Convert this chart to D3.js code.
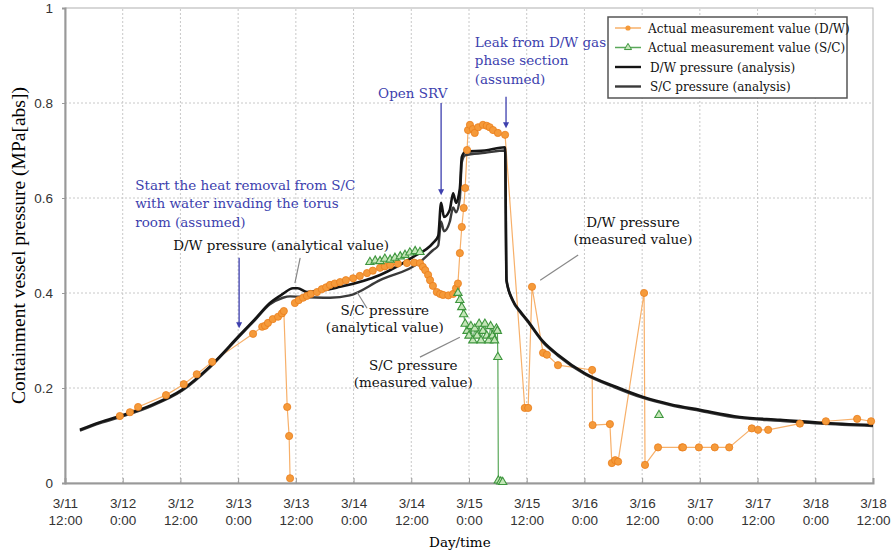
<!DOCTYPE html>
<html>
<head>
<meta charset="utf-8">
<script src="https://cdn.jsdelivr.net/npm/d3@7"></script>
<style>
body { margin: 0; background: #fff; }
text { font-family: "DejaVu Serif", serif; }
.tick text { font-family: "Liberation Sans", Arial, sans-serif; }
</style>
</head>
<body>
<svg></svg>
<script>
// x values are hours after 3/11 12:00, y values are MPa[abs]
var tickHours = [0, 12, 24, 36, 48, 60, 72, 84, 96, 108, 120, 132, 144, 156, 168];
var tickLabels = [
  ["3/11", "12:00"], ["3/12", "0:00"], ["3/12", "12:00"], ["3/13", "0:00"], ["3/13", "12:00"],
  ["3/14", "0:00"], ["3/14", "12:00"], ["3/15", "0:00"], ["3/15", "12:00"], ["3/16", "0:00"],
  ["3/16", "12:00"], ["3/17", "0:00"], ["3/17", "12:00"], ["3/18", "0:00"], ["3/18", "12:00"]
];
var yTicks = [0, 0.2, 0.4, 0.6, 0.8, 1];

var dwAnalysis = [
  [3.1, 0.112], [7.3, 0.128], [12.1, 0.143], [17.7, 0.163], [24.3, 0.196], [30.1, 0.245],
  [36.2, 0.31], [39.5, 0.345], [42.6, 0.379], [45.3, 0.398], [47.4, 0.41], [48.4, 0.41],
  [50.3, 0.402], [57.2, 0.413], [65.5, 0.438], [72.4, 0.476], [76.5, 0.505], [77.6, 0.52],
  [78.2, 0.59], [78.8, 0.56], [80.0, 0.575], [80.7, 0.61], [81.3, 0.59], [82.1, 0.62],
  [82.5, 0.686], [83.2, 0.697], [87.3, 0.70], [91.5, 0.707], [91.8, 0.427], [93.1, 0.385],
  [94.6, 0.362], [96.1, 0.343], [99.4, 0.298], [102.5, 0.27], [108.1, 0.231], [114.4, 0.203],
  [120.2, 0.181], [125.8, 0.166], [132.0, 0.154], [140.3, 0.139], [148.7, 0.133],
  [157.0, 0.127], [168, 0.122]
];

var scAnalysis = [
  [3.1, 0.110], [7.3, 0.126], [12.1, 0.141], [17.7, 0.161], [24.3, 0.194], [30.1, 0.243],
  [36.2, 0.308], [39.5, 0.343], [42.6, 0.376], [45.3, 0.390], [46.8, 0.393], [48.6, 0.392],
  [55.1, 0.39], [59.2, 0.395], [65.5, 0.427], [73.8, 0.465], [76.5, 0.49], [77.6, 0.50],
  [78.2, 0.55], [78.8, 0.53], [80.0, 0.55], [80.7, 0.58], [81.3, 0.57], [82.1, 0.60],
  [82.5, 0.675], [83.2, 0.69], [87.3, 0.695], [91.5, 0.70], [91.8, 0.425], [93.1, 0.383],
  [94.6, 0.360], [96.1, 0.341], [99.4, 0.296], [102.5, 0.268], [108.1, 0.229], [114.4, 0.201],
  [120.2, 0.179], [125.8, 0.164], [132.0, 0.152], [140.3, 0.137], [148.7, 0.131],
  [157.0, 0.125], [168, 0.120]
];

var dwMeasured = [
  [11.4, 0.141], [13.5, 0.149], [15.2, 0.16], [21.0, 0.185], [24.7, 0.208], [27.4, 0.229],
  [30.6, 0.255], [39.1, 0.314], [41.0, 0.329], [41.6, 0.331], [42.2, 0.337], [43.2, 0.345],
  [44.3, 0.35], [45.1, 0.357], [45.5, 0.362], [46.2, 0.16], [46.6, 0.099], [46.8, 0.01],
  null,
  [47.8, 0.379], [48.6, 0.385], [49.5, 0.39], [50.3, 0.394], [51.1, 0.398], [52.4, 0.402],
  [53.4, 0.408], [54.3, 0.412], [55.1, 0.417], [56.1, 0.42], [57.2, 0.423], [58.4, 0.427],
  [59.9, 0.431], [61.3, 0.436], [62.8, 0.442], [64.0, 0.447], [65.5, 0.453], [66.5, 0.456],
  [67.6, 0.459], [69.2, 0.462], [71.1, 0.463], [72.6, 0.464], [73.8, 0.463], [74.4, 0.455],
  [74.9, 0.448], [75.5, 0.438], [75.9, 0.427], [76.5, 0.415], [77.3, 0.402], [78.0, 0.398],
  [78.6, 0.396], [79.7, 0.395], [80.7, 0.398], [81.3, 0.41], [81.7, 0.42], [82.1, 0.484],
  [82.5, 0.539], [82.9, 0.579], [83.2, 0.621], [83.6, 0.701], [83.8, 0.743], [84.2, 0.754],
  [84.8, 0.745], [85.2, 0.737], [85.9, 0.749], [86.9, 0.754], [87.7, 0.752], [88.3, 0.749],
  [89.0, 0.743], [90.0, 0.737], [91.5, 0.733], [95.6, 0.158], [96.3, 0.158], [97.1, 0.413],
  [99.4, 0.274], [100.2, 0.27], [102.5, 0.248], [109.6, 0.238], [109.7, 0.122], [113.3, 0.124],
  [113.7, 0.042], [114.4, 0.048], [115.0, 0.045], [120.4, 0.40], [120.6, 0.038], [123.3, 0.075],
  [128.3, 0.075], [128.5, 0.075], [131.8, 0.075], [135.1, 0.075], [138.1, 0.075], [142.8, 0.115],
  [144.1, 0.112], [146.2, 0.112], [152.8, 0.125], [158.2, 0.13], [164.7, 0.135], [167.6, 0.13]
];

var scMeasured = [
  [63.4, 0.465], [64.5, 0.468], [65.5, 0.467], [66.5, 0.472], [67.6, 0.47], [68.6, 0.474],
  [69.7, 0.477], [70.7, 0.48], [71.7, 0.485], [72.8, 0.488], [73.8, 0.486],
  null,
  [81.7, 0.40], [82.1, 0.385], [82.5, 0.37], [82.9, 0.355], [83.2, 0.335], [83.6, 0.32],
  [84.0, 0.31], [84.4, 0.33], [84.8, 0.30], [85.2, 0.325], [85.7, 0.31], [86.1, 0.335],
  [86.5, 0.30], [86.9, 0.32], [87.3, 0.335], [87.7, 0.31], [88.1, 0.30], [88.5, 0.33],
  [88.9, 0.31], [89.3, 0.30], [89.7, 0.325], [89.9, 0.32], [90.0, 0.265], [90.1, 0.005],
  [90.6, 0.003], [91.0, 0.002],
  null,
  [123.5, 0.143]
];

var blueNotes = [
  {h: 14.6, v: 0.617, lines: ["Start the heat removal from S/C", "with water invading the torus", "room (assumed)"], arrow: [36.2, 0.474, 0.326]},
  {h: 65.1, v: 0.81, lines: ["Open SRV"], arrow: [78.2, 0.80, 0.606]},
  {h: 85.2, v: 0.918, lines: ["Leak from D/W gas", "phase section", "(assumed)"], arrow: [91.7, 0.813, 0.747]}
];

var blackNotes = [
  {h: 22.5, v: 0.491, lines: ["D/W pressure (analytical value)"], anchor: "start", lead: [48.9, 0.474, 47.8, 0.421]},
  {h: 66.5, v: 0.354, lines: ["S/C pressure", "(analytical value)"], anchor: "middle", lead: [62.8, 0.368, 60.7, 0.402]},
  {h: 72.4, v: 0.238, lines: ["S/C pressure", "(measured value)"], anchor: "middle", lead: [73.8, 0.265, 82.1, 0.307]},
  {h: 118.1, v: 0.539, lines: ["D/W pressure", "(measured value)"], anchor: "middle", lead: [106.7, 0.48, 98.8, 0.427]}
];

var legendItems = [
  {label: "Actual measurement value (D/W)", kind: "dw"},
  {label: "Actual measurement value (S/C)", kind: "sc"},
  {label: "D/W pressure (analysis)", kind: "dwa"},
  {label: "S/C pressure (analysis)", kind: "sca"}
];

var width = 896, height = 553;
var margin = {top: 8, right: 23, bottom: 70, left: 65};
var svg = d3.select("svg").attr("width", width).attr("height", height);

var x = d3.scaleLinear().domain([0, 168]).range([margin.left, width - margin.right]);
var y = d3.scaleLinear().domain([0, 1]).range([height - margin.bottom, margin.top]);

var blue = "#3d3fae", orange = "#f59a3a", orangeLine = "#f7b06a", green = "#3e963e";
var noteSize = 13.5;

// grid
svg.append("g").selectAll("line").data(tickHours.slice(1, -1)).enter().append("line")
  .attr("x1", d => x(d)).attr("x2", d => x(d))
  .attr("y1", y(0)).attr("y2", y(1))
  .attr("stroke", "#c8c8c8").attr("stroke-dasharray", "2,2");
svg.append("g").selectAll("line").data(yTicks.slice(1, -1)).enter().append("line")
  .attr("x1", x(0)).attr("x2", x(168))
  .attr("y1", d => y(d)).attr("y2", d => y(d))
  .attr("stroke", "#c8c8c8").attr("stroke-dasharray", "2,2");

// frame
svg.append("rect")
  .attr("x", x(0)).attr("y", y(1))
  .attr("width", x(168) - x(0)).attr("height", y(0) - y(1))
  .attr("fill", "none").attr("stroke", "#b0b0b0");

// axes
var xAxis = svg.append("g").attr("transform", "translate(0," + y(0) + ")")
  .call(d3.axisBottom(x).tickValues(tickHours).tickSize(-5).tickFormat(""));
xAxis.select(".domain").attr("stroke", "#999").attr("stroke-width", 2);
xAxis.selectAll(".tick line").attr("stroke", "#999");
xAxis.selectAll(".tick").append("text")
  .attr("fill", "#333").attr("font-size", 13.5).attr("text-anchor", "middle")
  .each(function(d, i) {
    var t = d3.select(this);
    t.append("tspan").attr("x", 0).attr("y", 25).text(tickLabels[i][0]);
    t.append("tspan").attr("x", 0).attr("y", 42).text(tickLabels[i][1]);
  });

var yAxis = svg.append("g").attr("transform", "translate(" + x(0) + ",0)")
  .call(d3.axisLeft(y).tickValues(yTicks).tickSize(3).tickPadding(9).tickFormat(d => d3.format("~g")(d)));
yAxis.select(".domain").attr("stroke", "#999").attr("stroke-width", 2);
yAxis.selectAll(".tick line").attr("stroke", "#999");
yAxis.selectAll(".tick text").attr("fill", "#333").attr("font-size", 13.5);

svg.append("text")
  .attr("transform", "translate(25," + y(0.5) + ") rotate(-90)")
  .attr("text-anchor", "middle").attr("font-size", 19.5)
  .style("font-family", "'Liberation Serif', 'Times New Roman', serif")
  .text("Containment vessel pressure (MPa[abs])");

svg.append("text")
  .attr("x", x(82.1)).attr("y", 547)
  .attr("text-anchor", "middle").attr("font-size", noteSize)
  .text("Day/time");

var line = d3.line().defined(d => d !== null).x(d => x(d[0])).y(d => y(d[1]));
var smooth = d3.line().x(d => x(d[0])).y(d => y(d[1])).curve(d3.curveMonotoneX);

// measurement connecting lines
svg.append("path").datum(dwMeasured).attr("d", line)
  .attr("fill", "none").attr("stroke", orangeLine).attr("stroke-width", 1.2);
svg.append("path").datum(scMeasured).attr("d", line)
  .attr("fill", "none").attr("stroke", "#5aa85a").attr("stroke-width", 1.2);

// analysis lines
svg.append("path").datum(scAnalysis).attr("d", smooth)
  .attr("fill", "none").attr("stroke", "#3a3a3a").attr("stroke-width", 2.4);
svg.append("path").datum(dwAnalysis).attr("d", smooth)
  .attr("fill", "none").attr("stroke", "#151515").attr("stroke-width", 2.6);

// markers
svg.append("g").selectAll("circle").data(dwMeasured.filter(d => d)).enter().append("circle")
  .attr("cx", d => x(d[0])).attr("cy", d => y(d[1])).attr("r", 3.6)
  .attr("fill", orange).attr("stroke", "#ea7d1c").attr("stroke-width", 0.8);

var tri = d3.symbol().type(d3.symbolTriangle).size(30);
svg.append("g").selectAll("path").data(scMeasured.filter(d => d)).enter().append("path")
  .attr("transform", d => "translate(" + x(d[0]) + "," + y(d[1]) + ")")
  .attr("d", tri).attr("fill", "#c4e6b8").attr("stroke", green).attr("stroke-width", 1.1);

// blue annotations with arrows
blueNotes.forEach(function(n) {
  var t = svg.append("text").attr("x", x(n.h)).attr("y", y(n.v))
    .attr("fill", blue).attr("font-size", noteSize);
  n.lines.forEach(function(s, i) {
    t.append("tspan").attr("x", x(n.h)).attr("dy", i === 0 ? 0 : 18.5).text(s);
  });
  var ax = x(n.arrow[0]), ay1 = y(n.arrow[1]), ay2 = y(n.arrow[2]);
  svg.append("line").attr("x1", ax).attr("x2", ax).attr("y1", ay1).attr("y2", ay2 - 5)
    .attr("stroke", blue).attr("stroke-width", 1.3);
  svg.append("path")
    .attr("d", "M" + (ax - 3) + "," + (ay2 - 6) + "L" + (ax + 3) + "," + (ay2 - 6) + "L" + ax + "," + ay2 + "Z")
    .attr("fill", blue);
});

// black annotations with leader lines
blackNotes.forEach(function(n) {
  var t = svg.append("text").attr("x", x(n.h)).attr("y", y(n.v))
    .attr("fill", "#111").attr("font-size", noteSize).attr("text-anchor", n.anchor);
  n.lines.forEach(function(s, i) {
    t.append("tspan").attr("x", x(n.h)).attr("dy", i === 0 ? 0 : 17).text(s);
  });
  svg.append("line")
    .attr("x1", x(n.lead[0])).attr("y1", y(n.lead[1]))
    .attr("x2", x(n.lead[2])).attr("y2", y(n.lead[3]))
    .attr("stroke", "#888").attr("stroke-width", 1.2);
});

// legend
var lg = svg.append("g").attr("transform", "translate(608,17)");
lg.append("rect").attr("width", 239).attr("height", 81)
  .attr("fill", "#fff").attr("stroke", "#555").attr("stroke-width", 1.5);
legendItems.forEach(function(it, i) {
  var gy = 11 + i * 19.5;
  var g = lg.append("g").attr("transform", "translate(0," + gy + ")");
  var stroke = it.kind === "dw" ? orangeLine : it.kind === "sc" ? "#5aa85a" : it.kind === "dwa" ? "#151515" : "#3a3a3a";
  g.append("line").attr("x1", 7).attr("x2", 33).attr("y1", 0).attr("y2", 0)
    .attr("stroke", stroke).attr("stroke-width", it.kind.length === 3 ? 2.4 : 1.5);
  if (it.kind === "dw") {
    g.append("circle").attr("cx", 20).attr("cy", 0).attr("r", 2.6).attr("fill", orange);
  } else if (it.kind === "sc") {
    g.append("path").attr("transform", "translate(20,0)")
      .attr("d", d3.symbol().type(d3.symbolTriangle).size(22))
      .attr("fill", "#c4e6b8").attr("stroke", green);
  }
  g.append("text").attr("x", it.kind.length === 3 ? 42 : 40).attr("y", 4.5)
    .attr("font-size", 12).attr("fill", "#111").text(it.label);
});
</script>
</body>
</html>
